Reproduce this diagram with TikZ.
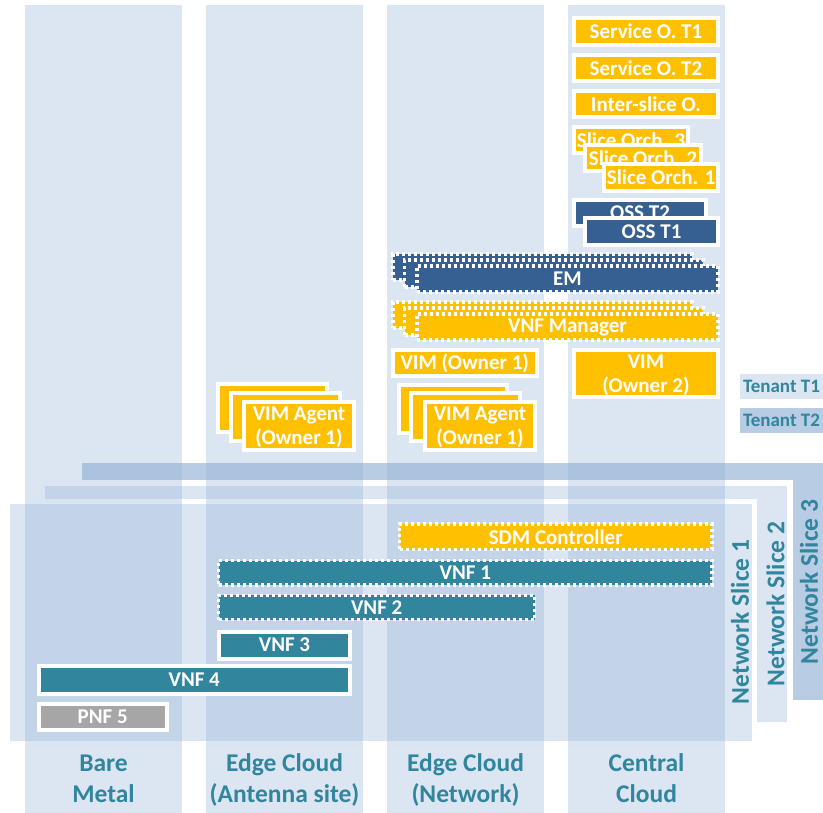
\documentclass[tikz,border=0pt]{standalone}
\usepackage{fontspec}
\setmainfont{Carlito}
\definecolor{orng}{HTML}{FFC000}
\definecolor{dblue}{HTML}{376092}
\definecolor{tealc}{HTML}{31859C}
\definecolor{pgray}{HTML}{A6A6A6}
\definecolor{colfill}{RGB}{146,177,214}
\definecolor{sthree}{RGB}{184,204,228}
\definecolor{sone}{HTML}{DCE6F2}
\begin{document}
\begin{tikzpicture}[x=1pt,y=-1pt,
  box/.style={draw=white, line width=4pt, inner sep=0pt, text=white, align=center,
    font=\bfseries\fontsize{21}{24}\selectfont},
  dbox/.style={box, line width=3.5pt, dash pattern=on 3pt off 3pt},
  ob/.style={box, fill=orng},
  bb/.style={box, fill=dblue},
  tb/.style={box, fill=tealc},
  odb/.style={dbox, fill=orng},
  bdb/.style={dbox, fill=dblue},
  tdb/.style={dbox, fill=tealc},
  twoline/.style={text depth=0pt},
  collabel/.style={text=tealc, align=center, inner sep=0pt,
    font=\bfseries\fontsize{25.5}{31}\selectfont},
  tenant/.style={text=tealc, inner sep=0pt, minimum width=83pt, minimum height=25pt,
    font=\bfseries\fontsize{19}{22}\selectfont},
  column/.style={fill=colfill, fill opacity=0.32}
]
\useasboundingbox (0,0) rectangle (823,813);
% network slices
\fill[sthree] (82,463) rectangle (823,700);
\fill[white] (39,480) rectangle (793,728);
\fill[sone] (45,486) rectangle (787,722);
\fill[white] (4,499) rectangle (757,747);
\fill[sone] (10,504) rectangle (752,741);
% columns
\fill[column] (25,5) rectangle (182,813);
\fill[column] (206,5) rectangle (363,813);
\fill[column] (387,5) rectangle (544,813);
\fill[column] (568,5) rectangle (725,813);
% top right stack
\node[ob, minimum width=144pt, minimum height=27pt] (so1) at (646,31.5) {Service O. T1};
\node[ob, minimum width=144pt, minimum height=26pt] (so2) at (646,68) {Service O. T2};
\node[ob, minimum width=144pt, minimum height=26pt] (iso) at (646,104) {Inter-slice O.};
\node[ob, minimum width=114pt, minimum height=25.5pt] (sor3) at (631,140.25) {Slice Orch. 3};
\node[ob, minimum width=116pt, minimum height=26pt] (sor2) at (643,158) {Slice Orch. 2};
\node[ob, minimum width=114pt, minimum height=27pt] (sor1) at (661,177.5) {Slice Orch. 1};
\node[bb, minimum width=132pt, minimum height=26pt] (oss2) at (640,213) {OSS T2};
\node[bb, minimum width=133pt, minimum height=27pt] (oss1) at (651.5,231.5) {OSS T1};
% EM stack
\node[bdb, minimum width=299pt, minimum height=26pt] (em3) at (542.5,267) {};
\node[bdb, minimum width=298.5pt, minimum height=27pt] (em2) at (553.75,273.5) {};
\node[bdb, minimum width=301pt, minimum height=26pt] (em1) at (567.5,279) {EM};
% VNF manager stack
\node[odb, minimum width=299pt, minimum height=26pt] (vm3) at (542.5,315) {};
\node[odb, minimum width=298.5pt, minimum height=27pt] (vm2) at (553.75,321.5) {};
\node[odb, minimum width=301pt, minimum height=26pt] (vm1) at (567.5,327) {VNF Manager};
% VIMs
\node[ob, minimum width=144.5pt, minimum height=26pt] (vim1) at (464.75,363) {VIM (Owner 1)};
\node[ob, twoline, minimum width=144pt, minimum height=47pt] (vim2) at (646,373.5) {VIM\\(Owner 2)};
% VIM agents, antenna site
\node[ob, minimum width=109pt, minimum height=48pt] (vaa3) at (272.5,408) {};
\node[ob, minimum width=109pt, minimum height=48pt] (vaa2) at (285.5,417) {};
\node[ob, twoline, minimum width=110pt, minimum height=48pt] (vaa1) at (299,426) {VIM Agent\\(Owner 1)};
% VIM agents, network
\node[ob, minimum width=108pt, minimum height=48pt] (van3) at (453,409) {};
\node[ob, minimum width=109pt, minimum height=48pt] (van2) at (465.5,417) {};
\node[ob, twoline, minimum width=110pt, minimum height=48pt] (van1) at (480,426) {VIM Agent\\(Owner 1)};
% tenants
\node[tenant, fill=sone] (t1) at (781.5,386.5) {Tenant T1};
\node[tenant, fill=sthree] (t2) at (781.5,420.5) {Tenant T2};
% functions in slices
\node[odb, minimum width=312.5pt, minimum height=25.5pt] (sdm) at (555.75,536.75) {SDM Controller};
\node[tdb, minimum width=493.3pt, minimum height=24.5pt] (vnf1) at (465.35,572.75) {VNF 1};
\node[tdb, minimum width=316pt, minimum height=24.2pt] (vnf2) at (376.7,607.4) {VNF 2};
\node[tb, minimum width=131pt, minimum height=27pt] (vnf3) at (284.5,645) {VNF 3};
\node[tb, minimum width=311.5pt, minimum height=28pt] (vnf4) at (194.25,680) {VNF 4};
\node[box, fill=pgray, minimum width=128.5pt, minimum height=26pt] (pnf5) at (102.75,716.5) {PNF 5};
% slice labels
\node[collabel, rotate=90] (ns1) at (740,622) {Network Slice 1};
\node[collabel, rotate=90] (ns2) at (775.5,604) {Network Slice 2};
\node[collabel, rotate=90] (ns3) at (809,582) {Network Slice 3};
% column labels
\node[collabel, text depth=0pt] (c1) at (103.5,778.5) {Bare\\Metal};
\node[collabel, text depth=0pt] (c2) at (284.5,778.5) {Edge Cloud\\(Antenna site)};
\node[collabel, text depth=0pt] (c3) at (465.5,778.5) {Edge Cloud\\(Network)};
\node[collabel, text depth=0pt] (c4) at (646.5,778.5) {Central\\Cloud};
\end{tikzpicture}
\end{document}
